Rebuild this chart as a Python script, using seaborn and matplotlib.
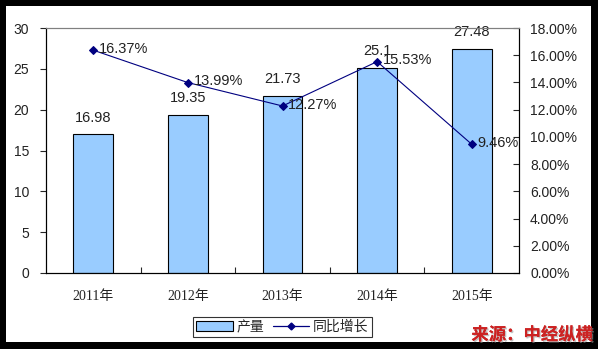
import matplotlib
matplotlib.use("Agg")
import matplotlib.pyplot as plt
import seaborn as sns
import pandas as pd
from matplotlib.patches import Rectangle
from matplotlib.lines import Line2D
from matplotlib.ticker import FuncFormatter, MultipleLocator
import matplotlib.patheffects as pe

years = ["2011年", "2012年", "2013年", "2014年", "2015年"]
output = [16.98, 19.35, 21.73, 25.1, 27.48]
growth = [16.37, 13.99, 12.27, 15.53, 9.46]
output_labels = ["16.98", "19.35", "21.73", "25.1", "27.48"]
growth_labels = ["16.37%", "13.99%", "12.27%", "15.53%", "9.46%"]

sns.set_style("white")
plt.rcParams['font.family'] = ['Liberation Sans', 'Noto Sans CJK SC', 'DejaVu Sans']

df = pd.DataFrame({"year": years, "output": output, "growth": growth})

fig = plt.figure(figsize=(5.98, 3.49), dpi=100)
fig.patch.set_facecolor("black")
fig.patches.append(Rectangle((6/598, 7/349), 585/598, 336/349, transform=fig.transFigure,
                             facecolor="white", edgecolor="none", zorder=-5))

ax = fig.add_axes([46/598, 1-273/349, 473/598, 245/349])
ax.set_facecolor("white")
sns.barplot(data=df, x="year", y="output", ax=ax, color="#99CCFF", edgecolor="black",
            linewidth=0.8, width=0.42, saturation=1)
ax.set_ylim(0, 30)
ax.set_xlim(-0.5, 4.5)
ax.yaxis.set_major_locator(MultipleLocator(5))
ax.set_xlabel("")
ax.set_ylabel("")
for i, (v, lab) in enumerate(zip(output, output_labels)):
    ax.annotate(lab, (i, v), xytext=(0, 12), textcoords="offset points", ha="center",
                va="center", fontsize=10.5, color="#222222", annotation_clip=False)

ax2 = ax.twinx()
sns.lineplot(data=df, x="year", y="growth", ax=ax2, color="#000080", marker="D",
             markersize=4.2, linewidth=0.8, markeredgecolor="#000080")
ax2.set_ylim(0, 18)
ax2.yaxis.set_major_locator(MultipleLocator(2))
ax2.yaxis.set_major_formatter(FuncFormatter(lambda v, p: f"{v:.2f}%"))
ax2.set_ylabel("")
ax2.set_xlabel("")
for i, (v, lab) in enumerate(zip(growth, growth_labels)):
    ax2.annotate(lab, (i, v), xytext=(4, 1), textcoords="offset points", ha="left",
                 va="center", fontsize=10.5, color="#222222", annotation_clip=False)

for a in (ax, ax2):
    for s in ("left", "right", "bottom"):
        a.spines[s].set_color("black")
        a.spines[s].set_linewidth(0.8)
    a.spines["top"].set_color("#808080")
    a.spines["top"].set_linewidth(0.8)

ax.tick_params(axis="y", direction="out", length=4, width=0.8, labelsize=10,
               labelcolor="#222222", left=True, pad=8)
ax.tick_params(axis="x", length=0, pad=12)
ax.set_xticks([0, 1, 2, 3, 4])
ax.set_xticklabels(years, fontsize=10, color="#222222",
                   family=['Liberation Serif', 'Noto Sans CJK SC'])
ax.set_xticks([0.5, 1.5, 2.5, 3.5], minor=True)
ax.tick_params(axis="x", which="minor", direction="in", length=4, width=0.8, bottom=True)
ax2.tick_params(axis="y", direction="in", length=4, width=0.8, labelsize=10,
                labelcolor="#222222", right=True, pad=8)

handles = [Rectangle((0, 0), 1, 1, facecolor="#99CCFF", edgecolor="black", linewidth=0.8),
           Line2D([0], [0], color="#000080", marker="D", markersize=3.5, linewidth=0.9)]
leg = fig.legend(handles, ["产量", "同比增长"], loc="center", bbox_to_anchor=(282.5/598, 1-327/349),
                 ncol=2, frameon=True, fancybox=False, edgecolor="black",
                 handlelength=2.6, handleheight=0.8, columnspacing=0.6, handletextpad=0.3,
                 borderpad=0.25, prop={'family': ['Noto Sans CJK SC'], 'size': 10})
leg.get_frame().set_linewidth(0.8)

fig.text(593/598, 1-335/349, "来源：中经纵横", ha="right", va="center", fontsize=12.5,
         color="#CC2222", fontweight="bold", style="italic", family=['Noto Sans CJK SC'],
         path_effects=[pe.withSimplePatchShadow(offset=(1, -1), shadow_rgbFace="#999999", alpha=0.6),
                       pe.Normal()])

fig.savefig("out.png", dpi=100, facecolor=fig.get_facecolor())
